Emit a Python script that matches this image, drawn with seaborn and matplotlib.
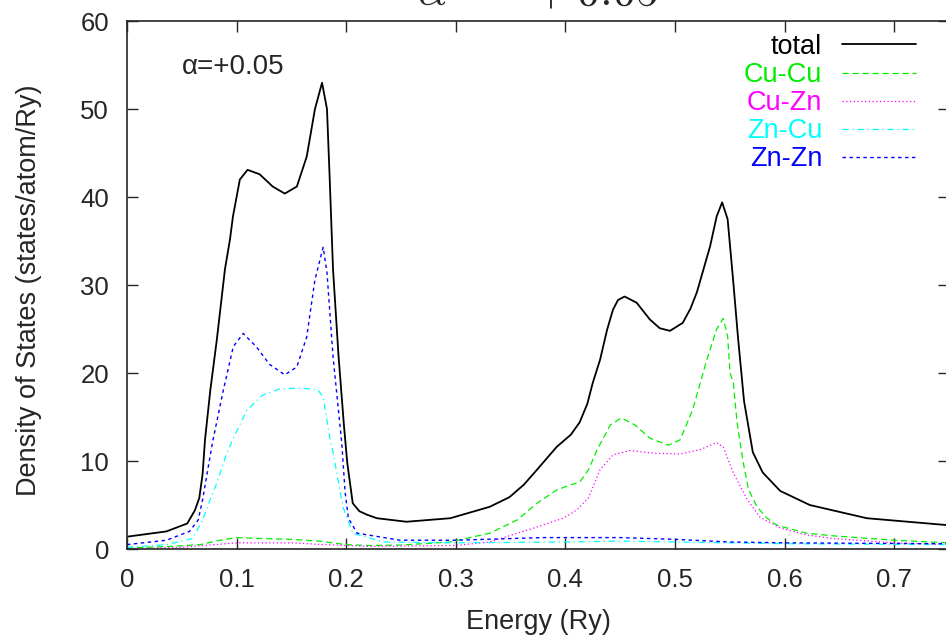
import numpy as np
import pandas as pd
import matplotlib
matplotlib.use("Agg")
import matplotlib.pyplot as plt
import seaborn as sns

sns.set_style("ticks")
plt.rcParams['font.family'] = ['Liberation Sans', 'DejaVu Sans']
plt.rcParams['mathtext.fontset'] = 'cm'

# curves
total_e = [0, 0.036, 0.055, 0.062, 0.066, 0.069, 0.0712, 0.076, 0.082, 0.0894, 0.094, 0.0967,
           0.103, 0.11, 0.121, 0.133, 0.144, 0.155, 0.164, 0.1715, 0.178, 0.1825, 0.185, 0.187,
           0.188, 0.193, 0.198, 0.201, 0.206, 0.212, 0.219, 0.228, 0.255, 0.295, 0.331, 0.349,
           0.362, 0.374, 0.392, 0.405, 0.413, 0.42, 0.425, 0.4316, 0.438, 0.4434, 0.448, 0.454,
           0.465, 0.477, 0.486, 0.4954, 0.507, 0.514, 0.52, 0.532, 0.538, 0.543, 0.548, 0.553,
           0.5575, 0.563, 0.571, 0.58, 0.596, 0.623, 0.675, 0.75]
total_d = [1.4, 2.0, 2.9, 4.4, 5.8, 8.5, 12.4, 18.0, 23.8, 31.8, 35.2, 37.8,
           42.0, 43.1, 42.6, 41.2, 40.4, 41.2, 44.6, 50.0, 53.0, 50.0, 42.0, 35.2,
           31.8, 22.0, 14.0, 9.8, 5.2, 4.3, 3.9, 3.5, 3.1, 3.5, 4.8, 5.9,
           7.3, 9.0, 11.6, 13.0, 14.4, 16.5, 18.9, 21.5, 24.9, 27.2, 28.3, 28.7,
           28.0, 26.1, 25.1, 24.8, 25.7, 27.3, 29.2, 34.4, 37.8, 39.4, 37.5, 30.6,
           24.0, 16.8, 11.0, 8.7, 6.6, 5.0, 3.5, 2.7]

cucu_e = [0, 0.04, 0.067, 0.085, 0.1, 0.12, 0.15, 0.175, 0.2, 0.22, 0.25, 0.295, 0.331, 0.356,
          0.374, 0.392, 0.405, 0.413, 0.421, 0.429, 0.441, 0.451, 0.4635, 0.477, 0.494, 0.5046,
          0.516, 0.529, 0.538, 0.544, 0.548, 0.5502, 0.5532, 0.5566, 0.562, 0.567, 0.5748,
          0.584, 0.593, 0.62, 0.644, 0.7, 0.75]
cucu_d = [0.1, 0.3, 0.5, 1.0, 1.3, 1.2, 1.1, 0.9, 0.5, 0.4, 0.45, 0.8, 1.8, 3.3,
          5.2, 6.7, 7.3, 7.6, 9.0, 11.3, 14.1, 14.9, 14.1, 12.6, 11.8, 12.4,
          15.8, 21.5, 25.0, 26.2, 24.2, 20.0, 18.9, 14.4, 10.0, 6.8, 4.8,
          3.5, 2.7, 1.8, 1.5, 1.0, 0.7]

cuzn_e = [0, 0.05, 0.08, 0.1, 0.15, 0.18, 0.22, 0.3, 0.331, 0.374, 0.398, 0.41, 0.421, 0.4316,
          0.4434, 0.459, 0.48, 0.5046, 0.523, 0.538, 0.544, 0.553, 0.566, 0.5776, 0.596, 0.62,
          0.644, 0.7, 0.75]
cuzn_d = [0.0, 0.2, 0.5, 0.7, 0.7, 0.5, 0.3, 0.4, 0.8, 2.5, 3.5, 4.4, 5.8, 9.0,
          10.7, 11.2, 10.9, 10.8, 11.3, 12.1, 11.6, 8.7, 5.6, 3.6, 2.4, 1.6,
          1.2, 0.7, 0.5]

zncu_e = [0, 0.036, 0.06, 0.069, 0.074, 0.082, 0.09, 0.097, 0.1095, 0.124, 0.1396, 0.158, 0.174,
          0.179, 0.1834, 0.1855, 0.188, 0.197, 0.206, 0.234, 0.3, 0.4, 0.45, 0.5, 0.6, 0.75]
zncu_d = [0.2, 0.5, 1.2, 3.3, 5.0, 7.5, 10.5, 12.6, 15.8, 17.5, 18.2, 18.3, 18.1,
          17.3, 13.9, 12.4, 11.0, 4.8, 1.8, 0.8, 0.7, 0.8, 0.9, 0.8, 0.6, 0.5]

znzn_e = [0, 0.036, 0.057, 0.065, 0.069, 0.073, 0.0785, 0.088, 0.097, 0.106, 0.118, 0.13, 0.144,
          0.155, 0.164, 0.1715, 0.179, 0.1825, 0.188, 0.196, 0.199, 0.202, 0.21, 0.249, 0.3,
          0.38, 0.45, 0.5, 0.55, 0.6, 0.75]
znzn_d = [0.5, 1.0, 2.0, 3.3, 5.6, 8.5, 12.4, 18.1, 23.0, 24.5, 23.0, 21.0, 19.8,
          20.7, 24.1, 30.6, 34.3, 31.4, 21.9, 12.0, 6.5, 3.5, 1.8, 1.0, 1.0,
          1.3, 1.3, 1.1, 0.8, 0.7, 0.6]

labels = ['total', 'Cu-Cu', 'Cu-Zn', 'Zn-Cu', 'Zn-Zn']
colors = ['black', '#00ee00', '#ff00ff', '#00ffff', '#0000ff']
styles = ['-', (0, (5, 3)), (0, (1, 2)), (0, (5, 3, 1, 3)), (0, (2.5, 2.5))]
widths = [1.3, 0.9, 0.9, 0.9, 1.0]
series = [(total_e, total_d), (cucu_e, cucu_d), (cuzn_e, cuzn_d),
          (zncu_e, zncu_d), (znzn_e, znzn_d)]

fig = plt.figure(figsize=(9.46, 6.41), dpi=100)
ax = fig.add_axes([0.1342, 0.1435, 0.869, 0.8235])

for (e, d), lab, c, ls, lw in zip(series, labels, colors, styles, widths):
    df = pd.DataFrame({'E': e, 'D': d})
    sns.lineplot(data=df, x='E', y='D', ax=ax, color=c, linestyle=ls, lw=lw,
                 label=lab, estimator=None)

ax.set_xlim(0, 0.75)
ax.set_ylim(0, 60)
ax.set_xticks(np.arange(0, 0.75, 0.1))
ax.set_xticklabels(['0', '0.1', '0.2', '0.3', '0.4', '0.5', '0.6', '0.7'])
ax.set_yticks(range(0, 61, 10))
ax.tick_params(direction='in', length=8, width=1, top=True, right=True, labelsize=18.5)
ax.tick_params(axis='x', pad=14)
ax.tick_params(axis='y', pad=13)
for s in ax.spines.values():
    s.set_linewidth(1.2)

ax.set_xlabel('Energy (Ry)', fontsize=19.5)
ax.set_ylabel('Density of States (states/atom/Ry)', fontsize=19.5)
ax.xaxis.set_label_coords(0.5, -0.113)
ax.yaxis.set_label_coords(-0.103, 0.49)

ax.text(0.0505, 54.8, 'α=+0.05', fontsize=20, ha='left', va='center')

leg = ax.legend(loc='upper right', bbox_to_anchor=(0.96, 0.976), frameon=False,
                markerfirst=False, fontsize=19.5, handlelength=2.75,
                labelspacing=0.08, labelcolor='linecolor', borderpad=0,
                borderaxespad=0, handletextpad=0.72)

fig.text(0.568, 1 - 5 / 641, r'$\alpha\ =\ +0.05$', fontsize=33, ha='center',
         va='baseline')

fig.savefig('out.png', dpi=100)
